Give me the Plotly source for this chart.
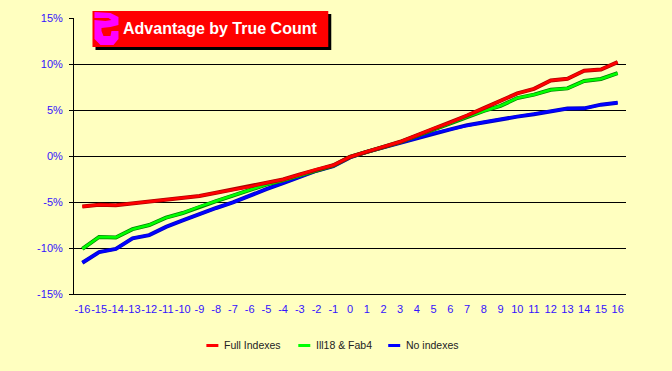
import plotly.graph_objects as go

true_count = list(range(-16, 17))
tick_labels = [str(v) for v in true_count]
full_indexes = [-5.5, -5.3, -5.35, -5.15, -4.9, -4.75, -4.55, -4.35, -4.0, -3.65, -3.35, -2.9, -2.55, -2.0, -1.45, -1.0, -0.1,
                0.5, 1.0, 1.55, 2.25, 3.0, 3.65, 4.4, 5.2, 6.0, 6.8, 7.3, 8.2, 8.4, 9.27, 9.4, 10.2]
ill18_fab4 = [-10.1, -8.8, -8.85, -7.95, -7.5, -6.7, -6.2, -5.5, -4.9, -4.3, -3.7, -3.1, -2.65, -2.1, -1.55, -1.05, -0.1,
              0.48, 0.98, 1.5, 2.2, 2.9, 3.55, 4.25, 4.9, 5.45, 6.3, 6.67, 7.2, 7.35, 8.15, 8.37, 9.0]
no_indexes = [-11.6, -10.45, -10.1, -8.95, -8.6, -7.7, -7.0, -6.3, -5.65, -5.05, -4.3, -3.6, -2.95, -2.3, -1.6, -1.1, -0.15,
              0.45, 0.95, 1.4, 1.92, 2.5, 2.9, 3.35, 3.68, 4.0, 4.28, 4.53, 4.82, 5.15, 5.18, 5.58, 5.8]
y_ticks = [-15, -10, -5, 0, 5, 10, 15]
y_labels = ["-15%", "-10%", "-5%", "0%", "5%", "10%", "15%"]
series_names = ["Full Indexes", "Ill18 & Fab4", "No indexes"]
series_colors = ["#FF0000", "#00FF00", "#0000FF"]
series_edges = ["#B00000", "#008000", "#0000C0"]

W, H = 672, 371
L, R, T, B = 73.5, 626, 18, 294


def px(x):
    return (x - L) / (R - L)


def py(y):
    return (B - y) / (B - T)


def rect(x0, y0, x1, y1, color):
    return dict(type="rect", xref="paper", yref="paper", layer="above", x0=px(x0), x1=px(x1),
                y0=py(y1), y1=py(y0), fillcolor=color, line_width=0)


glyph_points = [(94, 12), (110, 13), (118, 17), (118, 25), (110, 27), (101, 28), (101, 31), (103, 36), (110, 36),
                (111, 31), (118, 31), (118, 39), (113, 45), (100, 45), (94, 39), (94, 20), (105, 21), (111, 20), (108, 18), (94, 18)]
glyph_path = "M " + " L ".join(f"{px(x)},{py(y)}" for x, y in glyph_points) + " Z"

fig = go.Figure()
series = [full_indexes, ill18_fab4, no_indexes]
for i in (2, 1, 0):
    fig.add_trace(go.Scatter(x=true_count, y=series[i], name=series_names[i], mode="lines", showlegend=False,
                             hoverinfo="skip", line=dict(color=series_edges[i], width=4)))
    fig.add_trace(go.Scatter(x=true_count, y=series[i], name=series_names[i], mode="lines", showlegend=False,
                             line=dict(color=series_colors[i], width=2.6)))

legend_x = [206, 298, 388]
shapes = [rect(95, 14, 331, 50, "#000000"), rect(92, 11, 328, 47, "#FF0000"),
          dict(type="path", xref="paper", yref="paper", layer="above", path=glyph_path,
               fillcolor="#FF00FF", line_width=0)]
annotations = [dict(text="<b>Advantage by True Count</b>", xref="paper", yref="paper", x=px(220), y=py(29),
                    xanchor="center", yanchor="middle", showarrow=False,
                    font=dict(size=16, color="#FFFFFF", family="Liberation Sans, Arial, sans-serif"))]
for lx, name, color in zip(legend_x, series_names, series_colors):
    shapes.append(rect(lx, 344, lx + 12, 347, color))
    annotations.append(dict(text=name, xref="paper", yref="paper", x=px(lx + 18), y=py(345), xanchor="left",
                            yanchor="middle", showarrow=False, xshift=-2,
                            font=dict(size=10.5, color="#222222", family="Liberation Sans, Arial, sans-serif")))

fig.update_layout(
    width=W, height=H, autosize=False,
    paper_bgcolor="#FFFFC0", plot_bgcolor="#FFFFC0",
    margin=dict(l=L, r=W - R, t=T, b=H - B, pad=0),
    font=dict(family="Liberation Sans, Arial, sans-serif", size=11, color="#3311FF"),
    showlegend=False,
    shapes=shapes,
    annotations=annotations,
    xaxis=dict(range=[-16.5, 16.5], tickmode="array", tickvals=true_count, ticktext=tick_labels,
               showgrid=False, zeroline=False, ticks="", showline=True, linecolor="#000000", linewidth=1,
               tickangle=0, ticklabelstandoff=5, tickfont=dict(size=11, color="#3311FF")),
    yaxis=dict(range=[-15, 15], tickmode="array", tickvals=y_ticks, ticktext=y_labels,
               showgrid=True, gridcolor="#000000", gridwidth=1, zeroline=False, ticks="outside", ticklen=4,
               tickcolor="#000000", showline=True, linecolor="#000000", linewidth=1, ticklabelstandoff=4,
               tickfont=dict(size=11, color="#3311FF")),
)
fig.write_html("out.html", config={"displayModeBar": False},
               post_script="document.body.style.margin='0';document.body.style.overflow='hidden';document.body.style.background='#FFFFC0';")
